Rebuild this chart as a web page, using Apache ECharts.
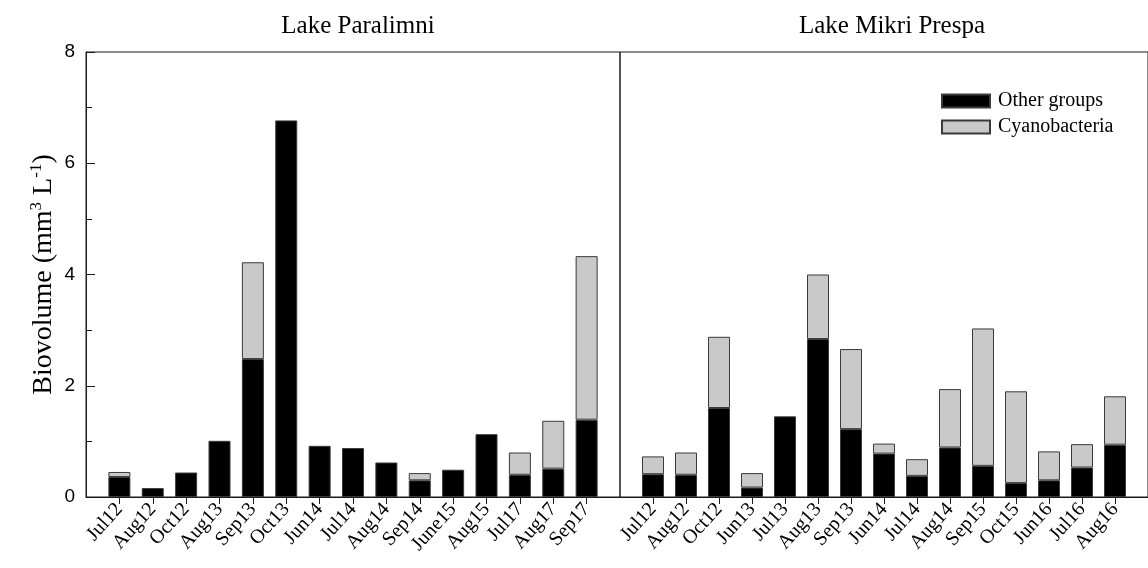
<!DOCTYPE html>
<html>
<head>
<meta charset="utf-8">
<script src="https://cdn.jsdelivr.net/npm/echarts@6/dist/echarts.min.js"></script>
<style>
  html, body { margin: 0; padding: 0; background: #fff; }
  #chart { width: 1148px; height: 568px; }
</style>
</head>
<body>
<div id="chart"></div>
<script>
// Lake Paralimni
var paralimni_dates = ['Jul12', 'Aug12', 'Oct12', 'Aug13', 'Sep13', 'Oct13', 'Jun14', 'Jul14', 'Aug14', 'Sep14', 'June15', 'Aug15', 'Jul17', 'Aug17', 'Sep17'];
var paralimni_other = [0.36, 0.16, 0.44, 1.01, 2.48, 6.77, 0.92, 0.88, 0.62, 0.30, 0.49, 1.13, 0.40, 0.51, 1.39];
var paralimni_cyano = [0.09, 0, 0, 0, 1.74, 0, 0, 0, 0, 0.13, 0, 0, 0.40, 0.86, 2.94];

// Lake Mikri Prespa
var prespa_dates = ['Jul12', 'Aug12', 'Oct12', 'Jun13', 'Jul13', 'Aug13', 'Sep13', 'Jun14', 'Jul14', 'Aug14', 'Sep15', 'Oct15', 'Jun16', 'Jul16', 'Aug16'];
var prespa_other = [0.41, 0.40, 1.60, 0.17, 1.45, 2.84, 1.22, 0.78, 0.38, 0.89, 0.56, 0.25, 0.30, 0.53, 0.94];
var prespa_cyano = [0.32, 0.40, 1.28, 0.26, 0, 1.16, 1.44, 0.18, 0.30, 1.05, 2.47, 1.65, 0.52, 0.42, 0.87];

var y_ticks = [0, 2, 4, 6, 8];

// pad one empty slot on each side so bars sit one step in from the frame
function pad_cats(arr) { return [''].concat(arr, ['']); }
function pad_vals(arr) {
    return [null].concat(arr.map(function (v) { return v > 0 ? v : null; }), [null]);
}
function inner_only(idx) { return idx > 0 && idx < 16; }

var serif = 'Liberation Serif';
var frame_color = '#1a1a1a';

function make_x(gridIndex, cats) {
    return {
        type: 'category',
        gridIndex: gridIndex,
        data: pad_cats(cats),
        boundaryGap: false,
        axisLine: { show: true, lineStyle: { color: frame_color, width: 1 } },
        axisTick: { show: true, length: 7, interval: inner_only, lineStyle: { color: frame_color } },
        axisLabel: {
            interval: inner_only,
            rotate: 48,
            margin: 9,
            fontFamily: serif,
            fontSize: 20,
            color: '#000'
        },
        splitLine: { show: false }
    };
}

function make_y(gridIndex, visible) {
    return {
        type: 'value',
        gridIndex: gridIndex,
        min: y_ticks[0],
        max: y_ticks[y_ticks.length - 1],
        interval: 2,
        show: visible,
        name: visible ? '{a|Biovolume (mm}{s|3}{a| L}{s|-1}{a|)}' : '',
        nameLocation: 'middle',
        nameGap: 26,
        nameRotate: 90,
        nameTextStyle: {
            rich: {
                a: { fontFamily: serif, fontSize: 28, color: '#000', lineHeight: 32 },
                s: { fontFamily: serif, fontSize: 17, color: '#000', verticalAlign: 'top', lineHeight: 32 }
            }
        },
        axisLine: { show: true, lineStyle: { color: frame_color, width: 1 } },
        axisTick: { show: true, inside: true, length: 9, lineStyle: { color: frame_color } },
        minorTick: { show: true, splitNumber: 2, length: 6, lineStyle: { color: frame_color } },
        axisLabel: { margin: 11, fontFamily: 'Liberation Sans', fontSize: 19, color: '#000' },
        splitLine: { show: false }
    };
}

function bar(name, stack, xi, data, color) {
    return {
        type: 'bar',
        name: name,
        stack: stack,
        xAxisIndex: xi,
        yAxisIndex: xi,
        barWidth: 22,
        data: pad_vals(data),
        itemStyle: { color: color, borderColor: '#3a3a3a', borderWidth: 1 }
    };
}

var chart = echarts.init(document.getElementById('chart'));
var option = {
    animation: false,
    backgroundColor: '#fff',
    title: [
        { text: 'Lake Paralimni', left: 353, top: 9, textAlign: 'center',
          textStyle: { fontFamily: serif, fontSize: 25, fontWeight: 'normal', color: '#000' } },
        { text: 'Lake Mikri Prespa', left: 887, top: 9, textAlign: 'center',
          textStyle: { fontFamily: serif, fontSize: 25, fontWeight: 'normal', color: '#000' } }
    ],
    legend: {
        data: ['Other groups', 'Cyanobacteria'],
        orient: 'vertical',
        left: 936,
        top: 86,
        itemWidth: 48,
        itemHeight: 13,
        itemGap: 6,
        icon: 'rect',
        textStyle: { fontFamily: serif, fontSize: 20, color: '#000', padding: [0, 0, 0, 3] }
    },
    grid: [
        { left: 86, width: 534, top: 52, height: 445, show: true, borderColor: frame_color, borderWidth: 1, backgroundColor: 'transparent' },
        { left: 620, width: 534, top: 52, height: 445, show: true, borderColor: frame_color, borderWidth: 1, backgroundColor: 'transparent' }
    ],
    xAxis: [make_x(0, paralimni_dates), make_x(1, prespa_dates)],
    yAxis: [make_y(0, true), make_y(1, false)],
    series: [
        bar('Other groups', 'L', 0, paralimni_other, '#000000'),
        bar('Cyanobacteria', 'L', 0, paralimni_cyano, '#c9c9c9'),
        bar('Other groups', 'R', 1, prespa_other, '#000000'),
        bar('Cyanobacteria', 'R', 1, prespa_cyano, '#c9c9c9')
    ]
};
chart.setOption(option);
</script>
</body>
</html>
